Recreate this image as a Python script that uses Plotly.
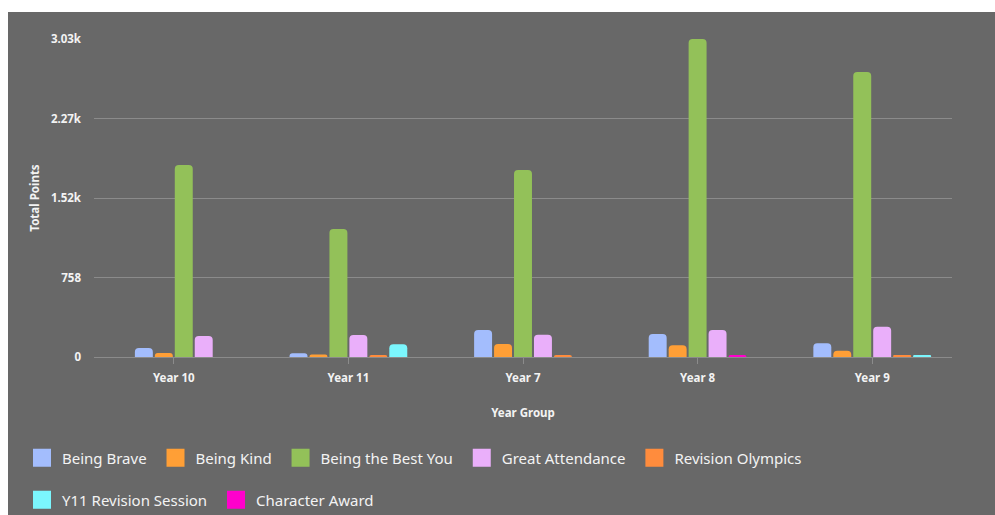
import plotly.graph_objects as go

categories = ["Year 10", "Year 11", "Year 7", "Year 8", "Year 9"]
series_names = ["Being Brave", "Being Kind", "Being the Best You", "Great Attendance",
                "Revision Olympics", "Y11 Revision Session", "Character Award"]
being_brave = [86, 35, 257, 219, 130]
being_kind = [38, 25, 124, 111, 60]
being_best_you = [1830, 1220, 1782, 3030, 2716]
great_attendance = [200, 210, 212, 257, 289]
revision_olympics = [0, 20, 20, 0, 15]
y11_revision = [0, 121, 0, 0, 15]
character_award = [0, 0, 0, 20, 0]
y_tick_vals = [0, 757.5, 1515, 2272.5, 3030]
y_tick_text = ["0", "758", "1.52k", "2.27k", "3.03k"]

colors = ["#a3bdfd", "#ff9f36", "#93c159", "#eaaffa", "#ff8c3d", "#7bf6fd", "#ff00cc"]
all_series = [being_brave, being_kind, being_best_you, great_attendance,
              revision_olympics, y11_revision, character_award]

BG = "#686868"
GRID = "#8b8b8b"
TXT = "#f3f3f3"
FONT = "Noto Sans, Open Sans, sans-serif"

# layout in px
L, R, T, B = 94, 43, 39, 158
W, H = 995, 515
pw, ph = W - L - R, H - T - B

slot = 0.8 / len(all_series)
bw = slot * 0.9

# per-category: non-zero bars are centred within the category
counts = [sum(1 for s in all_series if s[i]) for i in range(len(categories))]

fig = go.Figure()
for si, (name, vals, col) in enumerate(zip(series_names, all_series, colors)):
    ys, offs = [], []
    for ci in range(len(categories)):
        v = vals[ci]
        if v:
            k = sum(1 for s in all_series[:si] if s[ci])
            ys.append(v)
            offs.append(-counts[ci] * slot / 2 + k * slot + (slot - bw) / 2)
        else:
            ys.append(None)
            offs.append(0)
    fig.add_trace(go.Bar(
        x=categories, y=ys, name=name, offset=offs, width=bw,
        marker=dict(color=col, line=dict(width=0)),
        showlegend=False, legendgroup=name,
    ))

for si, (name, col) in enumerate(zip(series_names, colors)):
    fig.add_trace(go.Scatter(
        x=[None], y=[None], mode="markers", name=name + "\u00a0", legendgroup=name,
        marker=dict(symbol="square", size=16, color=col,
                    line=dict(width=2, color=col)),
        legend="legend" if si < 5 else "legend2",
        showlegend=True,
    ))

def px_x(p):
    return (p - L) / pw

def px_y(p):
    return (H - B - p) / ph

fig.add_shape(type="rect", xref="paper", yref="paper",
              x0=px_x(8), x1=px_x(1010), y0=px_y(530), y1=px_y(12),
              fillcolor=BG, line=dict(width=0), layer="below")

legend_common = dict(orientation="h", xanchor="left", yanchor="middle",
                     bgcolor="rgba(0,0,0,0)", borderwidth=0,
                     font=dict(family=FONT, size=15, color=TXT),
                     itemclick=False, itemdoubleclick=False)

fig.update_layout(
    width=W, height=H,
    margin=dict(l=L, r=R, t=T, b=B, pad=0, autoexpand=False),
    paper_bgcolor="white",
    plot_bgcolor="rgba(0,0,0,0)",
    barmode="overlay",
    barcornerradius=4,
    font=dict(family=FONT, color=TXT),
    legend=dict(x=px_x(22), y=px_y(458), **legend_common),
    legend2=dict(x=px_x(22), y=px_y(500), **legend_common),
    xaxis=dict(
        type="category", categoryorder="array", categoryarray=categories,
        range=[-0.457, len(categories) - 1 + 0.457],
        showgrid=False, showline=True, linecolor=GRID, linewidth=1,
        ticks="outside", ticklen=6, tickcolor=GRID, tickwidth=1,
        tickfont=dict(family=FONT, size=11.5, color=TXT, weight="bold"),
        ticklabelstandoff=4,
        title=dict(text="Year Group", standoff=25,
                   font=dict(family=FONT, size=11.5, color=TXT, weight="bold")),
        fixedrange=True,
    ),
    yaxis=dict(
        range=[0, 3030], tickvals=y_tick_vals, ticktext=y_tick_text,
        showgrid=True, gridcolor=GRID, gridwidth=1, zeroline=False,
        showline=False, ticks="",
        tickfont=dict(family=FONT, size=11.5, color=TXT, weight="bold"),
        ticklabelstandoff=12,
        title=dict(text="Total Points", standoff=8,
                   font=dict(family=FONT, size=11.5, color=TXT, weight="bold")),
        fixedrange=True,
    ),
)

fig.write_html("out.html", config={"displayModeBar": False})
